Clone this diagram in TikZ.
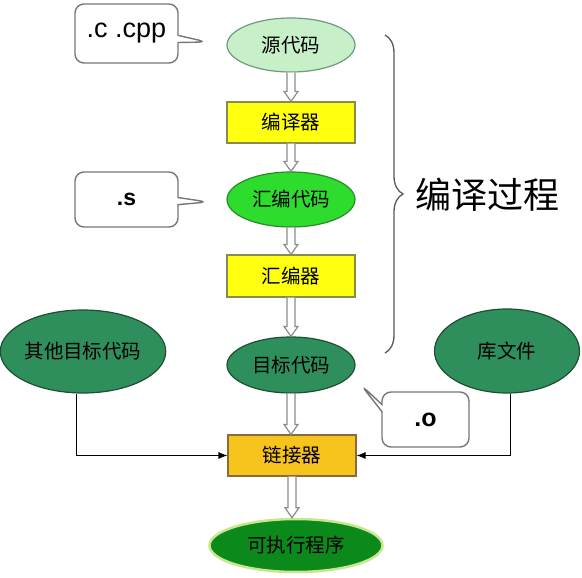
\documentclass[tikz,border=0pt]{standalone}
\usepackage{fontspec}
\setmainfont{Liberation Sans}
\newfontfamily\cjk{Noto Sans CJK SC}
\usetikzlibrary{shapes.geometric,shapes.callouts,decorations.pathreplacing,calc,arrows.meta}
\definecolor{srcfill}{HTML}{C8F0C8}
\definecolor{srcdraw}{HTML}{6F9A80}
\definecolor{asmfill}{HTML}{2EDC2E}
\definecolor{asmdraw}{HTML}{2A8A2A}
\definecolor{objfill}{HTML}{2F8F5C}
\definecolor{objdraw}{HTML}{1E4F30}
\definecolor{yelfill}{HTML}{FFFF10}
\definecolor{yeldraw}{HTML}{8A8A50}
\definecolor{goldfill}{HTML}{F6C41C}
\definecolor{golddraw}{HTML}{8A6A3A}
\definecolor{exefill}{HTML}{0B8A1B}
\definecolor{exeglow}{HTML}{C8E68C}
\definecolor{hollow}{HTML}{8C8C8C}
\definecolor{callgray}{HTML}{777777}
\newcommand{\holarrow}[2]{%
  \filldraw[hollowarrow] ($(#1.south)+(-4,0)$) -- ($(#1.south |- #2.north)+(-4,-10)$)
    -- ($(#1.south |- #2.north)+(-7,-10)$) -- (#1.south |- #2.north)
    -- ($(#1.south |- #2.north)+(7,-10)$) -- ($(#1.south |- #2.north)+(4,-10)$)
    -- ($(#1.south)+(4,0)$);}
\begin{document}
\begin{tikzpicture}[x=1pt,y=-1pt,
  cn/.style={font=\cjk\fontsize{19.5}{22}\selectfont, text=black, inner sep=0pt},
  ell/.style={cn, ellipse, line width=1.2pt},
  box/.style={cn, rectangle, line width=1.2pt, minimum width=128pt},
  hollowarrow/.style={draw=hollow, fill=white, line width=1.2pt, line join=miter},
  side/.style={draw=black, line width=0.9pt, -{Latex[length=9pt,width=7pt]}},
  bubble/.style={rectangle callout, draw=callgray, fill=white, line width=1.4pt,
    rounded corners=9pt, inner sep=0pt},
]
\useasboundingbox[fill=white] (0,0) rectangle (582,578);

% main column
\node[ell, fill=srcfill, draw=srcdraw, minimum width=128pt, minimum height=54pt] (src) at (291,45) {源代码};
\node[box, fill=yelfill, draw=yeldraw, minimum height=41pt] (comp) at (291,122.5) {编译器};
\node[ell, fill=asmfill, draw=asmdraw, minimum width=128pt, minimum height=55pt] (asmc) at (291,199.5) {汇编代码};
\node[box, fill=yelfill, draw=yeldraw, minimum height=42pt] (asm) at (291,276) {汇编器};
\node[ell, fill=objfill, draw=objdraw, minimum width=128pt, minimum height=56pt] (obj) at (291,365) {目标代码};
\node[box, fill=goldfill, draw=golddraw, minimum height=41pt] (link) at (292,455.5) {链接器};
\node[ell, fill=exefill, draw=exeglow, line width=2.5pt, minimum width=173pt, minimum height=53pt] (exe) at (296,545.5) {可执行程序};

% side inputs
\node[ell, fill=objfill, draw=objdraw, minimum width=160pt, minimum height=83pt] (other) at (83,351.5) {其他目标代码};
\node[ell, fill=objfill, draw=objdraw, minimum width=145pt, minimum height=84pt] (lib) at (507,351) {库文件};

% hollow arrows
\holarrow{src}{comp}
\holarrow{comp}{asmc}
\holarrow{asmc}{asm}
\holarrow{asm}{obj}
\holarrow{obj}{link}
\holarrow{link}{exe}

% side connectors
\draw[side] ([xshift=-7pt]other.south) |- (link.west);
\draw[side] ([xshift=3pt]lib.south) |- (link.east);

% callouts
\coordinate (pc) at (207,42);
\coordinate (ps) at (208,202);
\coordinate (po) at (361,385);
\node[bubble, minimum width=103pt, minimum height=59pt, callout absolute pointer={(pc)},
  font=\fontsize{27}{30}\selectfont] (bc) at (126.5,33.5) {.c .cpp};
\node[bubble, minimum width=103pt, minimum height=55pt, callout absolute pointer={(ps)},
  font=\bfseries\fontsize{23}{26}\selectfont] (bs) at (126.5,199.5) {.s};
\node[bubble, minimum width=87pt, minimum height=55pt, callout absolute pointer={(po)},
  font=\bfseries\fontsize{25}{28}\selectfont] (bo) at (425.5,419.5) {.o};

% brace
\coordinate (bt) at (385,35);
\coordinate (bb) at (385,353);
\draw[draw=black!65, line width=1.3pt, decorate, decoration={brace, amplitude=18pt}] (bt) -- (bb);
\node[font=\cjk\fontsize{36}{40}\selectfont, inner sep=0pt] (proc) at (487,195) {编译过程};
\end{tikzpicture}
\end{document}
